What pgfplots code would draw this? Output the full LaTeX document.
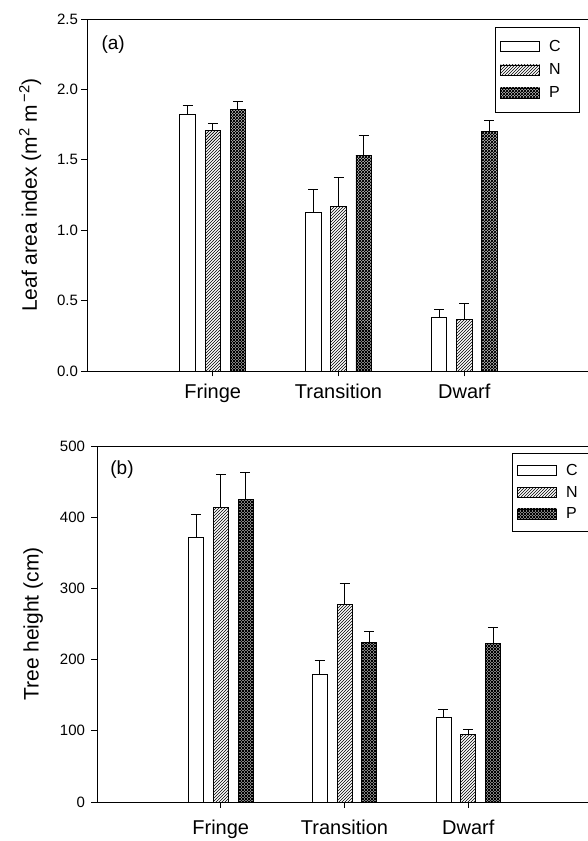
\documentclass[border=0pt]{standalone}
\usepackage{fontspec}
\setmainfont{Liberation Sans}
\usepackage{pgfplots}
\pgfplotsset{compat=1.18}
\usetikzlibrary{patterns}

\pgfdeclarepatternformonly{hatchN}{\pgfqpoint{-1pt}{-1pt}}{\pgfqpoint{4pt}{4pt}}{\pgfqpoint{3pt}{3pt}}{%
  \pgfsetlinewidth{0.7pt}%
  \pgfpathmoveto{\pgfqpoint{0pt}{0pt}}%
  \pgfpathlineto{\pgfqpoint{3.1pt}{3.1pt}}%
  \pgfusepath{stroke}}
\pgfdeclarepatternformonly{crossP}{\pgfqpoint{-1pt}{-1pt}}{\pgfqpoint{4pt}{4pt}}{\pgfqpoint{3pt}{3pt}}{%
  \pgfsetlinewidth{0.72pt}%
  \pgfpathmoveto{\pgfqpoint{0pt}{0pt}}%
  \pgfpathlineto{\pgfqpoint{3.1pt}{3.1pt}}%
  \pgfpathmoveto{\pgfqpoint{0pt}{3pt}}%
  \pgfpathlineto{\pgfqpoint{3.1pt}{-0.1pt}}%
  \pgfusepath{stroke}}

\pgfplotsset{
  common/.style={
    scale only axis,
    xmin=0, xmax=4, ymin=0,
    axis line style={line width=0.9pt},
    tick style={line width=0.9pt, black},
    tick align=outside,
    xtick pos=bottom, ytick pos=left,
    xtick={1,2,3},
    xticklabels={Fringe,Transition,Dwarf},
    major tick length=5.5pt,
    xticklabel style={font=\fontsize{20}{20}\selectfont, anchor=base},
    yticklabel style={font=\fontsize{15}{15}\selectfont},
    /pgf/number format/assume math mode=true,
    ylabel style={font=\fontsize{21}{21}\selectfont},
    legend cell align=left,
    legend style={draw=black, line width=0.8pt, font=\fontsize{16}{16}\selectfont,
      anchor=north west, inner xsep=5pt, inner ysep=10pt, row sep=4.5pt,
      nodes={inner sep=3pt}},
  },
  errstyle/.style={error bars/.cd, y dir=plus, y explicit,
    error bar style={line width=0.9pt, black},
    error mark=-,
    error mark options={rotate=90, line width=0.9pt, black, mark size=5pt}},
  barC/.style={ybar, bar shift=0pt, draw=black, line width=0.8pt, fill=white, mark=none, errstyle},
  barN/.style={ybar, bar shift=0pt, draw=black, line width=0.8pt, pattern=hatchN, mark=none, errstyle},
  barP/.style={ybar, bar shift=0pt, draw=black, line width=0.8pt, pattern=crossP, mark=none, errstyle},
  legend image code/.code={\draw[#1, line width=0.8pt] (0pt,-5pt) rectangle (39pt,5pt);},
}
\newcommand{\lent}[1]{\makebox[28pt][l]{\hspace{6pt}#1}}

\begin{document}
\begin{tikzpicture}[x=1pt,y=1pt]
\path[use as bounding box, clip] (0,0) rectangle (588,841);

% ---------- (a) ----------
\begin{axis}[common,
  at={(87pt,470pt)}, anchor=south west,
  width=503pt, height=352pt,
  ymax=2.5, ytick={0,0.5,1,1.5,2,2.5},
  yticklabel style={/pgf/number format/.cd, fixed, fixed zerofill, precision=1},
  xticklabel style={yshift=-22pt},
  bar width=0.123,
  ylabel={Leaf area index (m\textsuperscript{2} m\textsuperscript{\,\textminus 2})},
  ylabel style={at={(axis description cs:-0.113,0.5)}, anchor=center},
  legend style={at={(rel axis cs:0.811,0.977)}},
]
\addplot[barC] coordinates {(0.8,1.82) +- (0,0.065) (1.8,1.127) +- (0,0.159) (2.8,0.383) +- (0,0.057)};
\addlegendentry{\lent{C}}
\addplot[barN] coordinates {(1.0,1.71) +- (0,0.05) (2.0,1.167) +- (0,0.209) (3.0,0.369) +- (0,0.109)};
\addlegendentry{\lent{N}}
\addplot[barP] coordinates {(1.2,1.858) +- (0,0.055) (2.2,1.534) +- (0,0.142) (3.2,1.70) +- (0,0.076)};
\addlegendentry{\lent{P}}
\node[font=\fontsize{19}{19}\selectfont] at (rel axis cs:0.052,0.926) {(a)};
\end{axis}

% ---------- (b) ----------
\begin{axis}[common,
  at={(97pt,39pt)}, anchor=south west,
  width=495pt, height=356pt,
  ymax=500, ytick={0,100,200,300,400,500},
  yticklabel style={xshift=-3pt},
  xticklabel style={yshift=-27pt},
  bar width=0.121,
  ylabel={Tree height (cm)},
  ylabel style={at={(axis description cs:-0.129,0.5)}, anchor=center},
  legend style={at={(rel axis cs:0.838,0.980)}, inner ysep=8pt, row sep=3pt},
]
\addplot[barC] coordinates {(0.8,372.2) +- (0,31.8) (1.8,178.8) +- (0,19.7) (2.8,118.9) +- (0,10.8)};
\addlegendentry{\lent{C}}
\addplot[barN] coordinates {(1.0,413.9) +- (0,46.3) (2.0,277.1) +- (0,29.5) (3.0,95.5) +- (0,6.1)};
\addlegendentry{\lent{N}}
\addplot[barP] coordinates {(1.2,425.1) +- (0,37.4) (2.2,224.3) +- (0,15.4) (3.2,223.3) +- (0,22.5)};
\addlegendentry{\lent{P}}
\node[font=\fontsize{19}{19}\selectfont] at (rel axis cs:0.0505,0.933) {(b)};
\end{axis}
\end{tikzpicture}
\end{document}
